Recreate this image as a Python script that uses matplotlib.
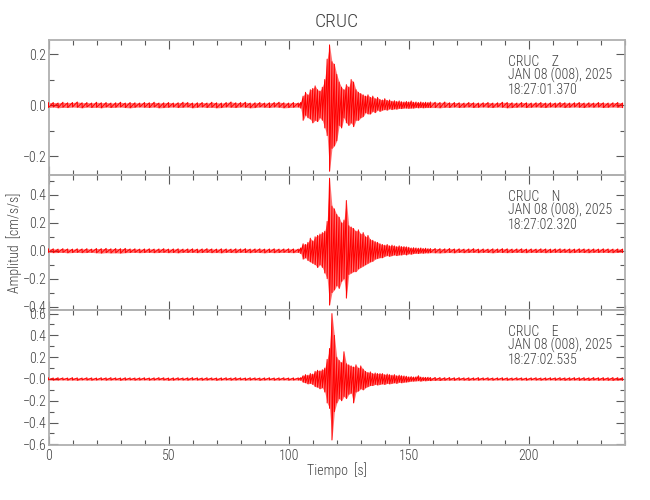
import numpy as np
import matplotlib
matplotlib.use("Agg")
import matplotlib.pyplot as plt
from matplotlib.ticker import MultipleLocator, FixedLocator, FixedFormatter
from matplotlib import font_manager

_avail = {f.name for f in font_manager.fontManager.ttflist}
_prefs = ['Roboto Condensed', 'Liberation Sans Narrow', 'DejaVu Sans Condensed',
          'Liberation Sans', 'DejaVu Sans']
FONT = [f for f in _prefs if f in _avail] or ['DejaVu Sans']
plt.rcParams['font.family'] = FONT
plt.rcParams['font.weight'] = 'light'

# ---------------- text ----------------
title = "CRUC"
station = "CRUC"
components = ["Z", "N", "E"]
date_label = "JAN 08 (008), 2025"
start_times = ["18:27:01.370", "18:27:02.320", "18:27:02.535"]
x_label = "Tiempo  [s]"
y_label = "Amplitud  [cm/s/s]"

# ---------------- axes ----------------
x_limits = (0, 240)
x_ticks = [0, 50, 100, 150, 200]
x_ticklabels = ["0", "50", "100", "150", "200"]
y_limits = [(-0.2745, 0.255), (-0.425, 0.543), (-0.606, 0.633)]
y_ticks = [[-0.2, 0.0, 0.2],
           [-0.4, -0.2, 0.0, 0.2, 0.4],
           [-0.6, -0.4, -0.2, 0.0, 0.2, 0.4, 0.6]]
y_ticklabels = [["\u22120.2", "0.0", "0.2"],
                ["\u22120.4", "\u22120.2", "0.0", "0.2", "0.4"],
                ["\u22120.6", "\u22120.4", "\u22120.2", "\u22120.0", "0.2", "0.4", "0.6"]]

# ---------------- data: per-bin max / min of each trace [cm/s/s] ----------------
t_pre = np.arange(0, 104, 2)     # 0 .. 102 s
t_evt = np.arange(104, 160, 1)   # 104 .. 159 s
t_post = np.arange(161, 241, 2)  # 161 .. 239 s

z_hi_pre = [0.009,0.010,0.008,0.011,0.009,0.010,0.012,0.009,0.010,0.008,
            0.011,0.009,0.010,0.008,0.009,0.011,0.008,0.010,0.009,0.008,
            0.010,0.009,0.011,0.008,0.009,0.010,0.008,0.009,0.011,0.010,
            0.008,0.009,0.010,0.008,0.011,0.009,0.008,0.010,0.012,0.009,
            0.010,0.011,0.008,0.009,0.010,0.008,0.009,0.010,0.011,0.009,
            0.008,0.010]
z_lo_pre = [-0.010,-0.008,-0.011,-0.009,-0.010,-0.008,-0.009,-0.011,-0.008,-0.010,
            -0.009,-0.011,-0.008,-0.010,-0.009,-0.008,-0.010,-0.011,-0.009,-0.008,
            -0.009,-0.010,-0.008,-0.011,-0.010,-0.009,-0.008,-0.010,-0.009,-0.008,
            -0.011,-0.009,-0.008,-0.010,-0.009,-0.011,-0.010,-0.008,-0.009,-0.010,
            -0.008,-0.009,-0.011,-0.010,-0.008,-0.009,-0.010,-0.008,-0.009,-0.011,
            -0.010,-0.009]
z_hi_evt = [0.008,0.010,0.035,0.050,0.040,0.060,0.065,0.075,0.060,0.055,
            0.070,0.100,0.180,0.236,0.170,0.160,0.120,0.090,0.070,0.060,
            0.080,0.070,0.100,0.090,0.060,0.050,0.045,0.040,0.035,0.040,
            0.030,0.035,0.025,0.030,0.022,0.020,0.025,0.018,0.020,0.015,
            0.017,0.014,0.016,0.013,0.012,0.014,0.012,0.016,0.011,0.012,
            0.010,0.012,0.010,0.011,0.010,0.012]
z_lo_evt = [-0.008,-0.012,-0.060,-0.040,-0.050,-0.055,-0.070,-0.060,-0.065,-0.050,
            -0.060,-0.090,-0.120,-0.260,-0.170,-0.160,-0.140,-0.080,-0.090,-0.050,
            -0.070,-0.080,-0.070,-0.085,-0.060,-0.060,-0.050,-0.045,-0.030,-0.035,
            -0.035,-0.025,-0.030,-0.020,-0.025,-0.020,-0.018,-0.020,-0.015,-0.018,
            -0.015,-0.016,-0.013,-0.014,-0.012,-0.012,-0.013,-0.012,-0.012,-0.010,
            -0.011,-0.010,-0.011,-0.010,-0.010,-0.010]
z_hi_post = [0.011,0.010,0.012,0.009,0.010,0.009,0.008,0.010,0.009,0.008,
             0.009,0.010,0.008,0.009,0.011,0.010,0.009,0.008,0.010,0.009,
             0.008,0.009,0.010,0.008,0.009,0.008,0.010,0.009,0.008,0.009,
             0.010,0.008,0.009,0.008,0.010,0.009,0.008,0.009,0.010,0.008]
z_lo_post = [-0.010,-0.011,-0.009,-0.010,-0.008,-0.010,-0.009,-0.008,-0.010,-0.009,
             -0.008,-0.009,-0.010,-0.008,-0.009,-0.011,-0.010,-0.009,-0.008,-0.010,
             -0.009,-0.008,-0.009,-0.010,-0.008,-0.009,-0.008,-0.010,-0.009,-0.008,
             -0.009,-0.010,-0.008,-0.009,-0.008,-0.010,-0.009,-0.008,-0.009,-0.010]

n_hi_pre = [0.013,0.014,0.012,0.015,0.013,0.012,0.014,0.013,0.015,0.012,
            0.016,0.015,0.017,0.014,0.016,0.015,0.017,0.013,0.014,0.012,
            0.013,0.014,0.012,0.013,0.015,0.012,0.013,0.014,0.012,0.013,
            0.014,0.012,0.013,0.015,0.013,0.012,0.014,0.013,0.012,0.014,
            0.013,0.015,0.012,0.013,0.014,0.012,0.013,0.014,0.012,0.013,
            0.014,0.013]
n_lo_pre = [-0.012,-0.014,-0.013,-0.012,-0.015,-0.013,-0.012,-0.014,-0.013,-0.012,
            -0.015,-0.017,-0.014,-0.016,-0.015,-0.017,-0.014,-0.013,-0.012,-0.014,
            -0.013,-0.012,-0.014,-0.013,-0.012,-0.014,-0.013,-0.015,-0.012,-0.013,
            -0.012,-0.014,-0.013,-0.012,-0.014,-0.013,-0.015,-0.012,-0.013,-0.014,
            -0.012,-0.013,-0.014,-0.012,-0.013,-0.015,-0.012,-0.014,-0.013,-0.012,
            -0.013,-0.014]
n_hi_evt = [0.012,0.020,0.050,0.045,0.060,0.090,0.070,0.100,0.110,0.120,
            0.130,0.140,0.210,0.520,0.320,0.300,0.260,0.240,0.200,0.220,
            0.360,0.180,0.170,0.160,0.140,0.150,0.120,0.130,0.100,0.110,
            0.080,0.075,0.065,0.060,0.050,0.045,0.040,0.045,0.035,0.040,
            0.035,0.030,0.035,0.030,0.030,0.028,0.025,0.020,0.022,0.020,
            0.018,0.020,0.016,0.018,0.015,0.016]
n_lo_evt = [-0.012,-0.020,-0.060,-0.050,-0.070,-0.080,-0.090,-0.100,-0.120,-0.100,
            -0.120,-0.160,-0.200,-0.390,-0.300,-0.280,-0.250,-0.270,-0.220,-0.200,
            -0.340,-0.170,-0.160,-0.150,-0.150,-0.130,-0.120,-0.110,-0.100,-0.090,
            -0.080,-0.075,-0.060,-0.055,-0.050,-0.050,-0.040,-0.035,-0.040,-0.035,
            -0.030,-0.035,-0.030,-0.030,-0.025,-0.030,-0.022,-0.025,-0.020,-0.018,
            -0.020,-0.016,-0.018,-0.015,-0.016,-0.014]
n_hi_post = [0.016,0.015,0.014,0.016,0.013,0.014,0.012,0.013,0.015,0.012,
             0.013,0.012,0.014,0.013,0.015,0.014,0.012,0.013,0.014,0.012,
             0.013,0.012,0.014,0.013,0.012,0.013,0.014,0.012,0.013,0.012,
             0.014,0.013,0.012,0.013,0.012,0.014,0.013,0.012,0.013,0.012]
n_lo_post = [-0.015,-0.016,-0.014,-0.013,-0.015,-0.012,-0.014,-0.013,-0.012,-0.014,
             -0.012,-0.013,-0.015,-0.012,-0.013,-0.014,-0.013,-0.012,-0.013,-0.014,
             -0.012,-0.013,-0.012,-0.014,-0.013,-0.012,-0.013,-0.012,-0.014,-0.013,
             -0.012,-0.013,-0.014,-0.012,-0.013,-0.012,-0.013,-0.014,-0.012,-0.013]

e_hi_pre = [0.010,0.009,0.011,0.010,0.009,0.012,0.010,0.009,0.011,0.010,
            0.009,0.011,0.010,0.012,0.010,0.009,0.011,0.010,0.009,0.010,
            0.011,0.009,0.010,0.012,0.011,0.009,0.010,0.011,0.009,0.010,
            0.012,0.010,0.009,0.011,0.010,0.009,0.010,0.011,0.009,0.012,
            0.010,0.009,0.011,0.010,0.009,0.010,0.011,0.009,0.010,0.011,
            0.009,0.010]
e_lo_pre = [-0.009,-0.011,-0.010,-0.009,-0.011,-0.010,-0.012,-0.009,-0.010,-0.011,
            -0.010,-0.009,-0.011,-0.010,-0.009,-0.012,-0.010,-0.009,-0.011,-0.010,
            -0.009,-0.011,-0.010,-0.009,-0.010,-0.012,-0.011,-0.009,-0.010,-0.011,
            -0.009,-0.010,-0.011,-0.010,-0.009,-0.012,-0.010,-0.009,-0.011,-0.010,
            -0.009,-0.011,-0.010,-0.009,-0.012,-0.010,-0.009,-0.011,-0.010,-0.009,
            -0.011,-0.010]
e_hi_evt = [0.010,0.012,0.030,0.040,0.035,0.050,0.045,0.070,0.080,0.075,
            0.085,0.100,0.180,0.280,0.600,0.400,0.200,0.170,0.150,0.250,
            0.140,0.130,0.120,0.110,0.130,0.100,0.120,0.090,0.070,0.060,
            0.065,0.050,0.055,0.050,0.050,0.050,0.040,0.045,0.040,0.035,
            0.040,0.030,0.035,0.030,0.028,0.025,0.020,0.022,0.018,0.020,
            0.030,0.018,0.016,0.015,0.016,0.014]
e_lo_evt = [-0.010,-0.012,-0.030,-0.035,-0.045,-0.040,-0.050,-0.070,-0.075,-0.090,
            -0.080,-0.120,-0.220,-0.270,-0.560,-0.300,-0.220,-0.180,-0.200,-0.160,
            -0.180,-0.140,-0.130,-0.220,-0.120,-0.110,-0.090,-0.100,-0.080,-0.070,
            -0.060,-0.060,-0.050,-0.055,-0.050,-0.045,-0.050,-0.040,-0.045,-0.040,
            -0.035,-0.040,-0.030,-0.035,-0.030,-0.028,-0.025,-0.020,-0.020,-0.018,
            -0.016,-0.020,-0.015,-0.017,-0.014,-0.015]
e_hi_post = [0.014,0.013,0.012,0.013,0.011,0.012,0.010,0.011,0.010,0.012,
             0.010,0.011,0.009,0.010,0.011,0.010,0.009,0.011,0.010,0.009,
             0.010,0.011,0.009,0.010,0.011,0.010,0.012,0.010,0.011,0.012,
             0.011,0.012,0.010,0.013,0.011,0.012,0.011,0.013,0.012,0.011]
e_lo_post = [-0.013,-0.014,-0.012,-0.011,-0.012,-0.010,-0.011,-0.012,-0.010,-0.011,
             -0.009,-0.010,-0.011,-0.009,-0.010,-0.011,-0.010,-0.009,-0.010,-0.011,
             -0.009,-0.010,-0.011,-0.010,-0.009,-0.011,-0.010,-0.012,-0.011,-0.010,
             -0.012,-0.011,-0.013,-0.010,-0.012,-0.011,-0.012,-0.013,-0.011,-0.012]

traces = [
    (z_hi_pre + z_hi_evt + z_hi_post, z_lo_pre + z_lo_evt + z_lo_post),
    (n_hi_pre + n_hi_evt + n_hi_post, n_lo_pre + n_lo_evt + n_lo_post),
    (e_hi_pre + e_hi_evt + e_hi_post, e_lo_pre + e_lo_evt + e_lo_post),
]
t_all = np.concatenate([t_pre, t_evt, t_post])
for hi, lo in traces:
    assert len(hi) == len(t_all) and len(lo) == len(t_all), (len(hi), len(lo), len(t_all))

# ---------------- styling ----------------
TRACE = "#ff0000"
SPINE = "#b0b0b0"
TICK = "#5a5a5a"
TEXT = "#404040"
FS = 10

W, H = 650, 500
fig = plt.figure(figsize=(W / 100, H / 100), dpi=100)
left_px, right_px = 48.5, 625
panel_tops = [40, 175, 310]
panel_h = 135

axes = []
for i, (hi, lo) in enumerate(traces):
    top = panel_tops[i]
    ax = fig.add_axes([left_px / W, 1 - (top + panel_h) / H,
                       (right_px - left_px) / W, panel_h / H])
    axes.append(ax)
    hi_a = np.asarray(hi)
    lo_a = np.asarray(lo)
    # envelope of each time bin (max..min), then the max/min pairs as one trace
    ax.fill_between(t_all, lo_a, hi_a, color=TRACE, alpha=0.55, lw=0,
                    clip_on=False, zorder=2)
    x = np.repeat(t_all, 2)
    y = np.column_stack([hi_a, lo_a]).ravel()
    ax.plot(x, y, color=TRACE, lw=0.7, clip_on=False, zorder=3)

    ax.set_xlim(*x_limits)
    ax.set_ylim(*y_limits[i])
    ax.xaxis.set_major_locator(FixedLocator(x_ticks))
    ax.xaxis.set_minor_locator(MultipleLocator(10))
    ax.yaxis.set_major_locator(FixedLocator(y_ticks[i]))
    ax.yaxis.set_major_formatter(FixedFormatter(y_ticklabels[i]))
    ax.yaxis.set_minor_locator(MultipleLocator(0.1))
    if i == 2:
        ax.xaxis.set_major_formatter(FixedFormatter(x_ticklabels))
    else:
        ax.tick_params(axis='x', which='both', labelbottom=False)
    ax.tick_params(which='both', direction='in', top=True, right=True,
                   color=TICK, labelcolor=TEXT, labelsize=FS, width=0.8)
    ax.tick_params(which='major', length=6.5)
    ax.tick_params(which='minor', length=3.6)
    ax.tick_params(axis='y', pad=1.5)
    ax.tick_params(axis='x', pad=3)
    for s in ax.spines.values():
        s.set_color(SPINE)
        s.set_linewidth(1.3)
    ax.patch.set_visible(False)

    # station / component / date / start time block
    x0 = (507.7 - left_px) / (right_px - left_px)
    ax.text(x0, 1 - 26 / panel_h, f"{station}    {components[i]}", transform=ax.transAxes,
            ha='left', va='baseline', fontsize=FS, color=TEXT)
    ax.text(x0, 1 - 40 / panel_h, date_label, transform=ax.transAxes,
            ha='left', va='baseline', fontsize=FS, color=TEXT)
    ax.text(x0, 1 - 54 / panel_h, start_times[i], transform=ax.transAxes,
            ha='left', va='baseline', fontsize=FS, color=TEXT)

fig.text((left_px + right_px) / 2 / W, 1 - 22 / H, title, ha='center', va='center',
         fontsize=14, color=TEXT)
fig.text((left_px + right_px) / 2 / W, 1 - 470 / H, x_label, ha='center', va='center',
         fontsize=FS, color=TEXT)
fig.text(14 / W, 1 - 243 / H, y_label, ha='center', va='center', rotation=90,
         fontsize=FS, color=TEXT)

fig.savefig("out.png", dpi=100, facecolor="white")
